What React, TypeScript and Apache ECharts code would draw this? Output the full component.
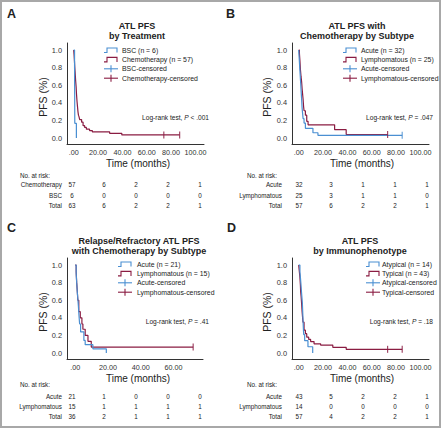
import React, { useEffect, useRef } from "react";
import * as echarts from "echarts";

// ---------- DATA ----------
const xTicksLong = [0, 20, 40, 60, 80, 100];
const xTicksShort = [0, 20, 40, 60];
const yTicks = [0, 0.2, 0.4, 0.6, 0.8, 1.0];

// Panel A: by treatment
const aBSC = [[0, 1], [0.7, 0.833], [0.8, 0.5], [0.9, 0.167], [2.2, 0]];
const aChemo = [[0, 1], [0.3, 0.95], [0.6, 0.88], [0.9, 0.8], [1.2, 0.74], [1.6, 0.65], [2, 0.58], [2.3, 0.5], [2.7, 0.42], [3.1, 0.36], [3.5, 0.3], [3.9, 0.26], [4.4, 0.24], [4.9, 0.21], [6.5, 0.18], [7.7, 0.14], [9, 0.12], [10.4, 0.1], [13, 0.085], [15.3, 0.07], [29.5, 0.053], [39.5, 0.035], [87, 0.035]];
const aChemoCensor = [[74, 0.035], [87, 0.035]];

// Panel B: chemotherapy by subtype
const bAcute = [[0, 1], [0.4, 0.91], [0.8, 0.81], [1.2, 0.72], [1.6, 0.63], [2, 0.53], [2.4, 0.44], [2.8, 0.34], [3.2, 0.28], [3.6, 0.22], [4.4, 0.17], [5.5, 0.11], [11.7, 0.06], [15.8, 0.031], [85, 0.031]];
const bAcuteCensor = [[85, 0.031]];
const bLymph = [[0, 1], [0.6, 0.96], [1, 0.88], [1.4, 0.78], [1.9, 0.7], [2.4, 0.64], [2.8, 0.56], [3.2, 0.5], [3.6, 0.44], [4, 0.36], [4.4, 0.31], [5.5, 0.26], [6.6, 0.19], [7.7, 0.15], [29.5, 0.095], [39, 0.04], [73, 0.04]];
const bLymphCensor = [[73, 0.04]];

// Panel C: relapse/refractory by subtype
const cAcute = [[0, 1], [0.6, 0.9], [0.9, 0.81], [1.2, 0.71], [1.6, 0.62], [2, 0.52], [2.3, 0.43], [2.7, 0.33], [3.3, 0.24], [5.3, 0.143], [6.1, 0.095], [10.8, 0.048], [19, 0]];
const cLymph = [[0, 1], [0.6, 0.93], [0.9, 0.8], [1.2, 0.73], [1.6, 0.6], [2.2, 0.47], [3.1, 0.4], [4.1, 0.33], [4.7, 0.27], [6.1, 0.2], [7.8, 0.133], [9.8, 0.067], [72, 0.067]];
const cLymphCensor = [[72, 0.067]];

// Panel D: by immunophenotype
const dAtyp = [[0, 1], [1, 0.93], [1.4, 0.86], [1.8, 0.79], [2.2, 0.71], [2.6, 0.64], [3, 0.57], [3.4, 0.43], [3.8, 0.29], [4.1, 0.21], [4.9, 0.14], [7.6, 0.071], [11.5, 0]];
const dTyp = [[0, 1], [0.5, 0.93], [1, 0.86], [1.4, 0.77], [1.6, 0.7], [2, 0.64], [2.4, 0.56], [2.8, 0.47], [3.2, 0.4], [3.5, 0.35], [4.4, 0.26], [5.5, 0.22], [6.6, 0.18], [8.2, 0.155], [9.8, 0.13], [12.6, 0.105], [18, 0.09], [28, 0.065], [39, 0.042], [85, 0.042]];
const dTypCensor = [[73, 0.042], [85, 0.042]];

// Titles, legends, tests
const titlesA = ["ATL PFS", "by Treatment"];
const titlesB = ["ATL PFS with", "Chemotherapy by Subtype"];
const titlesC = ["Relapse/Refractory ATL PFS", "with Chemotherapy by Subtype"];
const titlesD = ["ATL PFS", "by Immunophenotype"];
const legendA = ["BSC (n = 6)", "Chemotherapy (n = 57)", "BSC-censored", "Chemotherapy-censored"];
const legendB = ["Acute (n = 32)", "Lymphomatous (n = 25)", "Acute-censored", "Lymphomatous-censored"];
const legendC = ["Acute (n = 21)", "Lymphomatous (n = 15)", "Acute-censored", "Lymphomatous-censored"];
const legendD = ["Atypical (n = 14)", "Typical (n = 43)", "Atypical-censored", "Typical-censored"];
const pValues = ["< .001", "= .047", "= .41", "= .18"];

// Numbers at risk
const riskRowsA = ["Chemotherapy", "BSC", "Total"];
const riskA = [[57, 6, 2, 2, 1], [6, 0, 0, 0, 0], [63, 6, 2, 2, 1]];
const riskRowsB = ["Acute", "Lymphomatous", "Total"];
const riskB = [[32, 3, 1, 1, 1], [25, 3, 1, 1, 0], [57, 6, 2, 2, 1]];
const riskRowsC = ["Acute", "Lymphomatous", "Total"];
const riskC = [[21, 1, 0, 0, 0], [15, 1, 1, 1, 1], [36, 2, 1, 1, 1]];
const riskRowsD = ["Acute", "Lymphomatous", "Total"];
const riskD = [[43, 5, 2, 2, 1], [14, 0, 0, 0, 0], [57, 4, 2, 2, 1]];

// ---------- STYLE / LAYOUT ----------
const FONT = '"Liberation Sans", Arial, Helvetica, sans-serif';
const BLUE = "#4a8fd2";
const RED = "#8a1c42";
const TXT = "#222";

const panels = [
  { letter: "A", lx: 7, ly: 14, grid: { left: 67, top: 43, width: 137, height: 101 }, xMin: -5.5, xMax: 107, xt: xTicksLong,
    titles: titlesA, tx: 137, ty: 26, legend: legendA, legIcon: 104, legText: 122, legY: 50, p: pValues[0], pX: 209, pY: 117,
    yNameX: 43, yNameY: 97, xNameX: 138, xNameY: 163, s1: aBSC, s2: aChemo, c1: [], c2: aChemoCensor,
    rows: riskRowsA, risk: riskA, rowRight: 62, cols: [72, 104, 136, 168, 200], riskY: [175, 184.5, 195, 205] },
  { letter: "B", lx: 226, ly: 14, grid: { left: 292, top: 43, width: 137, height: 101 }, xMin: -5.5, xMax: 107, xt: xTicksLong,
    titles: titlesB, tx: 357, ty: 26, legend: legendB, legIcon: 343, legText: 361, legY: 50, p: pValues[1], pX: 433, pY: 117,
    yNameX: 267, yNameY: 97, xNameX: 362, xNameY: 163, s1: bAcute, s2: bLymph, c1: bAcuteCensor, c2: bLymphCensor,
    rows: riskRowsB, risk: riskB, rowRight: 282, cols: [299, 331, 363, 395, 427], riskY: [175, 184.5, 195, 205] },
  { letter: "C", lx: 7, ly: 228, grid: { left: 67, top: 258, width: 136, height: 101 }, xMin: -5, xMax: 78, xt: xTicksShort,
    titles: titlesC, tx: 139, ty: 241, legend: legendC, legIcon: 118, legText: 137, legY: 264, p: pValues[2], pX: 209, pY: 321,
    yNameX: 43, yNameY: 312, xNameX: 138, xNameY: 378, s1: cAcute, s2: cLymph, c1: [], c2: cLymphCensor,
    rows: riskRowsC, risk: riskC, rowRight: 62, cols: [72, 104, 136, 168, 200], riskY: [384, 396, 406, 416] },
  { letter: "D", lx: 227, ly: 228, grid: { left: 292, top: 258, width: 137, height: 101 }, xMin: -5.5, xMax: 107, xt: xTicksLong,
    titles: titlesD, tx: 360, ty: 241, legend: legendD, legIcon: 366, legText: 382, legY: 264, p: pValues[3], pX: 433, pY: 321,
    yNameX: 267, yNameY: 312, xNameX: 362, xNameY: 378, s1: dAtyp, s2: dTyp, c1: [], c2: dTypCensor,
    rows: riskRowsD, risk: riskD, rowRight: 282, cols: [299, 331, 363, 395, 427], riskY: [384, 396, 406, 416] },
];

function text(x: number, y: number, t: string, size: number, align = "left", weight = "normal", extra: any = {}) {
  return {
    type: "text", x, y, silent: true, ...extra,
    style: { text: t, fontSize: size, fontFamily: FONT, fill: TXT, align, verticalAlign: "middle", fontWeight: weight },
  };
}

function buildGraphic() {
  const g: any[] = [];
  g.push({ type: "rect", shape: { x: 1, y: 1, width: 439, height: 426 }, style: { fill: "none", stroke: "#a8a8a8", lineWidth: 2 }, silent: true });
  panels.forEach((p) => {
    g.push(text(p.lx, p.ly, p.letter, 12.5, "left", "bold"));
    g.push(text(p.tx, p.ty, p.titles[0], 9, "center", "bold"));
    g.push(text(p.tx, p.ty + 10, p.titles[1], 9, "center", "bold"));
    // legend
    const colors = [BLUE, RED, BLUE, RED];
    p.legend.forEach((lab, i) => {
      const y = p.legY + i * 9.4;
      const x = p.legIcon;
      if (i < 2) {
        g.push({ type: "polyline", silent: true, shape: { points: [[x, y + 2.5], [x + 3, y + 2.5], [x + 3, y - 2], [x + 13, y - 2], [x + 13, y + 2.5]] }, style: { stroke: colors[i], lineWidth: 1.1, fill: "none" } });
      } else {
        g.push({ type: "line", silent: true, shape: { x1: x, y1: y, x2: x + 14, y2: y }, style: { stroke: colors[i], lineWidth: 1.1 } });
        g.push({ type: "line", silent: true, shape: { x1: x + 7, y1: y - 3.5, x2: x + 7, y2: y + 3.5 }, style: { stroke: colors[i], lineWidth: 1.1 } });
      }
      g.push(text(p.legText, y, lab, 6.9));
    });
    // log-rank
    g.push({
      type: "text", x: p.pX, y: p.pY, silent: true,
      style: {
        text: "{n|Log-rank test, }{i|P}{n| " + p.p + "}", align: "right", verticalAlign: "middle",
        rich: { n: { fontSize: 6.6, fontFamily: FONT, fill: TXT }, i: { fontSize: 6.6, fontFamily: FONT, fill: TXT, fontStyle: "italic" } },
      },
    });
    // axis names
    g.push(text(p.yNameX, p.yNameY, "PFS (%)", 10.5, "center", "normal", { rotation: Math.PI / 2 }));
    g.push(text(p.xNameX, p.xNameY, "Time (months)", 10, "center"));
    // risk table
    g.push(text(p.cols[0] - 22, p.riskY[0], "No. at risk:", 6.3, "right"));
    p.rows.forEach((r, ri) => {
      g.push(text(p.rowRight, p.riskY[ri + 1], r, 6.3, "right"));
      p.risk[ri].forEach((v, ci) => g.push(text(p.cols[ci], p.riskY[ri + 1], String(v), 6.3, "center")));
    });
  });
  return g;
}

function buildOption() {
  const series: any[] = [];
  panels.forEach((p, i) => {
    const mk = (data: number[][], color: string) => ({
      type: "line", xAxisIndex: i, yAxisIndex: i, data, step: "end", showSymbol: false, symbol: "none",
      lineStyle: { color, width: 1.2 }, itemStyle: { color }, silent: true, z: color === RED ? 3 : 4,
    });
    const cs = (data: number[][], color: string) => ({
      type: "scatter", xAxisIndex: i, yAxisIndex: i, data, symbol: "rect", symbolSize: [1.2, 7], itemStyle: { color }, silent: true, z: 5,
    });
    series.push(mk(p.s2, RED));
    series.push(mk(p.s1, BLUE));
    if (p.c1.length) series.push(cs(p.c1, BLUE));
    if (p.c2.length) series.push(cs(p.c2, RED));
  });
  const axisLine = { show: true, onZero: false, lineStyle: { color: "#333", width: 1 } };
  return {
    animation: false,
    grid: panels.map((p) => ({ ...p.grid, containLabel: false })),
    xAxis: panels.map((p, i) => ({
      type: "value", gridIndex: i, min: p.xMin, max: p.xMax, axisLine, axisTick: { show: false }, splitLine: { show: false },
      axisLabel: { customValues: p.xt, fontSize: 7.2, color: "#333", fontFamily: FONT, margin: 5, formatter: (v: number) => (v === 0 ? ".00" : v.toFixed(2)) },
    })),
    yAxis: panels.map((p, i) => ({
      type: "value", gridIndex: i, min: -0.068, max: 1.08, axisLine, axisTick: { show: false }, splitLine: { show: false },
      axisLabel: { customValues: yTicks, fontSize: 7.4, color: "#333", fontFamily: FONT, margin: 5, formatter: (v: number) => v.toFixed(1) },
    })),
    series,
    graphic: buildGraphic(),
  };
}

export default function App() {
  const ref = useRef<HTMLDivElement>(null);
  useEffect(() => {
    document.body.style.margin = "0";
    const chart = echarts.init(ref.current!, undefined, { renderer: "svg" });
    chart.setOption(buildOption() as any);
    return () => chart.dispose();
  }, []);
  return <div ref={ref} style={{ width: 441, height: 428, background: "#fff" }} />;
}
